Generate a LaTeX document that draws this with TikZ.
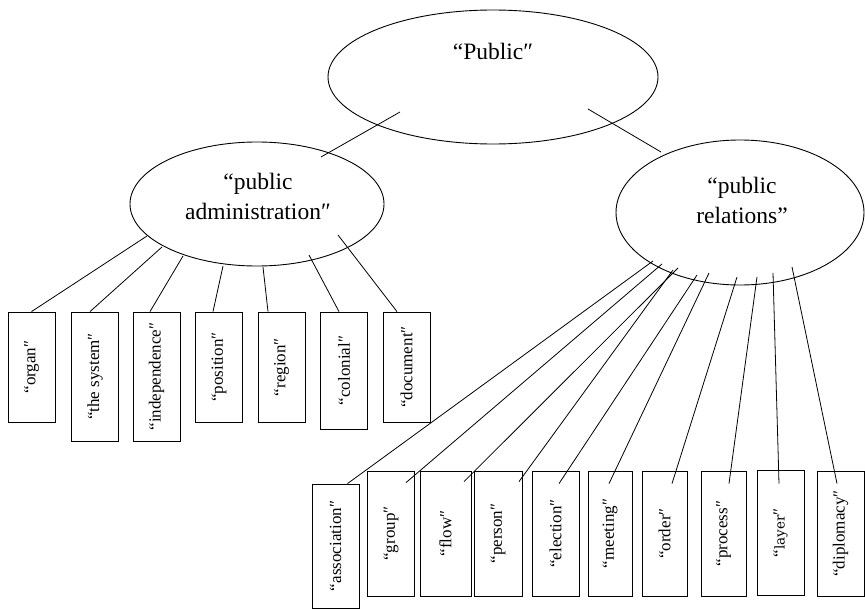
\documentclass[tikz,border=0pt]{standalone}
\usepackage{fontspec}
\setmainfont{Liberation Serif}
\newfontfamily\layerfont{DejaVu Serif}
\usepackage{graphicx}
\usetikzlibrary{shapes.geometric}

\begin{document}
\begin{tikzpicture}[
        x=1pt, y=-1pt,
        line width=0.8pt,
        oval/.style={ellipse, draw, line width=0.9pt, inner sep=0pt},
        ovaltext/.style={align=center, font=\fontsize{23.5}{30}\selectfont},
        term/.style={rectangle, draw, inner sep=0pt, minimum width=47pt, font=\fontsize{17}{20}\selectfont}
    ]
        \useasboundingbox (0,0) rectangle (865,610);

        % Ellipses
        \node[oval, minimum width=330pt, minimum height=134pt] (pub) at (493,77) {};
        \node[oval, minimum width=254pt, minimum height=124pt] (pa) at (257,204) {};
        \node[oval, minimum width=248pt, minimum height=145pt] (pr) at (740,212.5) {};
        \node[ovaltext] (pubtxt) at (493,51) {“Public″};
        \node[ovaltext] (patxt) at (258,196) {“public\\administration″};
        \node[ovaltext] (prtxt) at (742,200) {“public\\relations”};

        % Terms of public administration
        \node[term, minimum height=110pt] (organ) at (31.5,367) {\rotatebox{90}{“organ″}};
        \node[term, minimum height=129pt] (system) at (95,376.5) {\rotatebox{90}{“the system″}};
        \node[term, minimum height=129pt] (independence) at (156.5,376.5) {\rotatebox{90}{“independence″}};
        \node[term, minimum height=110pt] (position) at (219,367) {\rotatebox{90}{“position″}};
        \node[term, minimum height=110pt] (region) at (281.5,367) {\rotatebox{90}{“region″}};
        \node[term, minimum height=117pt] (colonial) at (344,370.5) {\rotatebox{90}{“colonial″}};
        \node[term, minimum height=110pt] (document) at (406.5,367) {\rotatebox{90}{“document″}};

        % Terms of public relations
        \node[term, minimum height=124pt] (association) at (335.5,546) {\rotatebox{90}{“association″}};
        \node[term, minimum height=125pt] (group) at (391,533.5) {\rotatebox{90}{“group″}};
        \node[term, minimum height=125pt, minimum width=51pt] (flow) at (445.5,533.5) {\rotatebox{90}{“flow″}};
        \node[term, minimum height=125pt, minimum width=48pt] (person) at (498,533.5) {\rotatebox{90}{“person″}};
        \node[term, minimum height=125pt] (election) at (555.5,533.5) {\rotatebox{90}{“election″}};
        \node[term, minimum height=125pt, minimum width=44pt] (meeting) at (610,533.5) {\rotatebox{90}{“meeting″}};
        \node[term, minimum height=125pt, minimum width=45pt] (order) at (664.5,533.5) {\rotatebox{90}{“order″}};
        \node[term, minimum height=125pt, minimum width=45pt] (process) at (723.5,533.5) {\rotatebox{90}{“process″}};
        \node[term, minimum height=125pt] (layer) at (780.5,532.5) {\rotatebox{90}{“{\layerfont\fontsize{13.5}{16}\selectfont layer}″}};
        \node[term, minimum height=125pt] (diplomacy) at (840.5,533.5) {\rotatebox{90}{“diplomacy″}};

        % Links from the top
        \draw ([shift={(-93,35)}]pub.center) -- ([shift={(64,-47)}]pa.center);
        \draw ([shift={(95,32)}]pub.center) -- ([shift={(-79,-60.5)}]pr.center);

        % Links of public administration
        \draw ([shift={(-110,32)}]pa.center) -- (organ.north);
        \draw ([shift={(-95,43)}]pa.center) -- ([shift={(-5,0)}]system.north);
        \draw ([shift={(-74,52)}]pa.center) -- ([shift={(-6.5,0)}]independence.north);
        \draw ([shift={(-34,62)}]pa.center) -- ([shift={(-6,0)}]position.north);
        \draw ([shift={(6,63)}]pa.center) -- ([shift={(-13.5,0)}]region.north);
        \draw ([shift={(52,51)}]pa.center) -- ([shift={(-5,0)}]colonial.north);
        \draw ([shift={(81,31)}]pa.center) -- ([shift={(-9.5,0)}]document.north);

        % Links of public relations
        \draw ([shift={(-87,48.5)}]pr.center) -- ([shift={(12,0)}]association.north);
        \draw ([shift={(-78,51.5)}]pr.center) -- ([shift={(15,12)}]group.north);
        \draw ([shift={(-62,55.5)}]pr.center) -- ([shift={(18.5,11)}]flow.north);
        \draw ([shift={(-67,57.5)}]pr.center) -- ([shift={(21,11)}]person.north);
        \draw ([shift={(-43,62.5)}]pr.center) -- ([shift={(3.5,13)}]election.north);
        \draw ([shift={(-31,60.5)}]pr.center) -- ([shift={(-1,13)}]meeting.north);
        \draw ([shift={(-3,64.5)}]pr.center) -- ([shift={(7.5,13)}]order.north);
        \draw ([shift={(17,64.5)}]pr.center) -- ([shift={(5.5,13)}]process.north);
        \draw ([shift={(33,60.5)}]pr.center) -- ([shift={(-1.5,14)}]layer.north);
        \draw ([shift={(52,54.5)}]pr.center) -- ([shift={(-3.5,13)}]diplomacy.north);
    \end{tikzpicture}
\end{document}
